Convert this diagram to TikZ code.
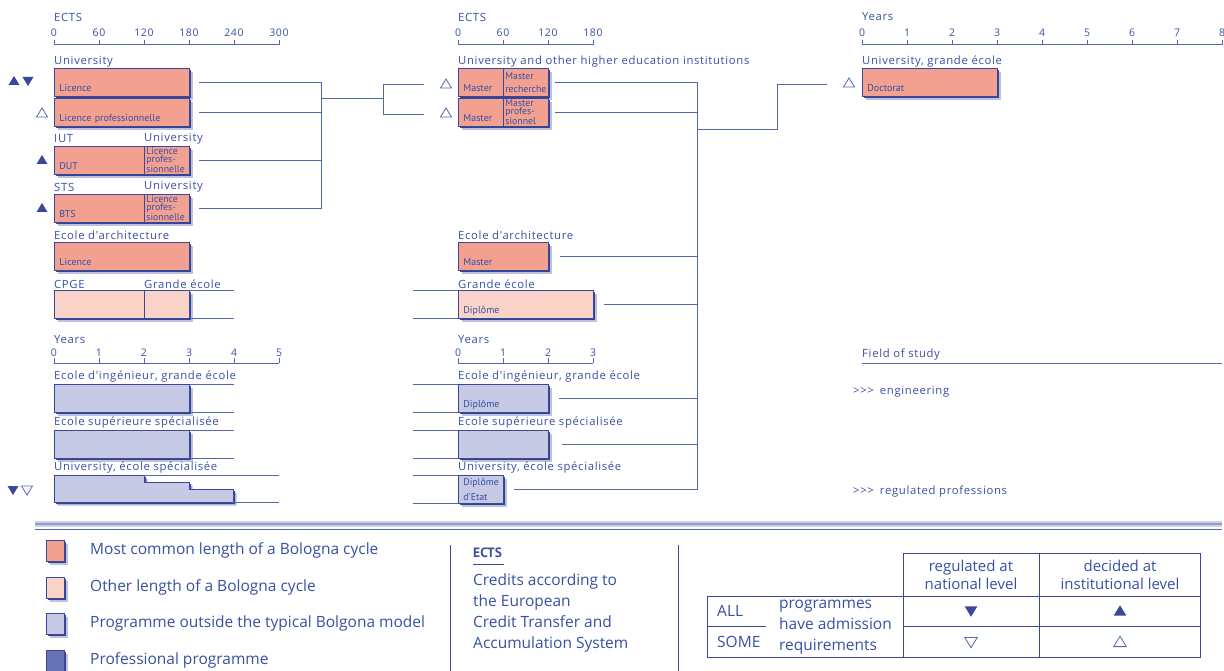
\documentclass[tikz,border=0pt]{standalone}
\usepackage{fontspec}
\setmainfont{Open Sans}
\newfontfamily\labfam[LetterSpace=6]{Open Sans}
\newfontfamily\boxfam{PT Sans}
\usetikzlibrary{shadows}
\definecolor{ink}{RGB}{55,80,162}
\definecolor{wire}{RGB}{82,102,178}
\definecolor{edge}{RGB}{58,72,155}
\definecolor{shade}{RGB}{38,52,140}
\definecolor{common}{RGB}{242,160,143}
\definecolor{other}{RGB}{249,211,199}
\definecolor{outside}{RGB}{198,201,228}
\definecolor{prof}{RGB}{102,114,182}

\begin{document}
\begin{tikzpicture}[x=1pt,y=-1pt,
  lab/.style={anchor=west, inner sep=0pt, text=ink, font=\labfam\fontsize{11.3}{13}\selectfont},
  num/.style={inner sep=0pt, text=ink, font=\labfam\fontsize{10.5}{12}\selectfont},
  axis/.style={draw=wire, line width=1pt},
  link/.style={draw=wire, line width=0.9pt},
  soft/.style={drop shadow={shadow xshift=3.5pt, shadow yshift=-3.5pt, fill=shade, opacity=0.3},
               drop shadow={shadow xshift=2pt, shadow yshift=-2pt, fill=shade, opacity=0.9}},
  box/.style={soft, draw=edge, line width=0.8pt, anchor=north west, inner ysep=0pt, inner xsep=5pt,
              text height=23pt, text depth=5pt, minimum height=28pt, align=left, text=ink,
              font=\boxfam\fontsize{10}{11}\selectfont},
  sbox/.style={soft, draw=edge, line width=0.8pt, anchor=north west, inner ysep=0pt, inner xsep=2pt,
               minimum height=28pt, text width=41pt, align=left, text=ink,
               font=\boxfam\fontsize{9.8}{7.8}\selectfont},
  key/.style={soft, draw=edge, line width=0.8pt, anchor=north west, inner sep=0pt,
              minimum width=18pt, minimum height=21pt},
  legend/.style={anchor=west, inner sep=0pt, text=ink, font=\fontsize{15.5}{20.7}\selectfont},
  grid/.style={draw=edge, line width=0.9pt},
  full/.style={fill=edge},
  hollow/.style={draw=wire, line width=0.8pt},
  triup/.pic={\path[pic actions] (-5.5,4) -- (5.5,4) -- (0,-5) -- cycle;},
  tridown/.pic={\path[pic actions] (-5.5,-4) -- (5.5,-4) -- (0,5) -- cycle;}
]
\useasboundingbox (0,0) rectangle (1224,671);

% first cycle
\node[lab] (ectsA) at (54,17) {ECTS};
\draw[axis] (54,45) -- (279,45);
\foreach \i/\t in {0/0,1/60,2/120,3/180,4/240,5/300}{
  \draw[axis] ({54+45*\i},40) -- ({54+45*\i},45);
  \node[num] (ea\i) at ({54+45*\i},33) {\t};
}
\node[lab] (uniA) at (54,62) {University};
\node[box, fill=common, text width=125pt] (lic) at (54,68) {Licence};
\node[box, fill=common, text width=125pt] (licpro) at (54,98) {Licence professionnelle};
\node[lab] (iut) at (54,139) {IUT};
\node[lab] (uniB) at (144,139) {University};
\node[box, fill=common, text width=80pt] (dut) at (54,146) {DUT};
\node[sbox, fill=common] (lpB) at (144,146) {Licence\\profes-\\sionnelle};
\node[lab] (sts) at (54,187) {STS};
\node[lab] (uniC) at (144,187) {University};
\node[box, fill=common, text width=80pt] (bts) at (54,194) {BTS};
\node[sbox, fill=common] (lpC) at (144,194) {Licence\\profes-\\sionnelle};
\node[lab] (archA) at (54,235) {Ecole d'architecture};
\node[box, fill=common, text width=125pt] (larch) at (54,242) {Licence};
\node[lab] (cpge) at (54,284) {CPGE};
\node[lab] (geA) at (144,284) {Grande école};
\node[box, fill=other, text width=80pt] (prep) at (54,290) {};
\node[box, fill=other, text width=35pt] (geL) at (144,290) {};
\draw[link] (geL.north east) -- ([xshift=44]geL.north east);
\draw[link] (geL.south east) -- ([xshift=44]geL.south east);

\node[lab] (yrA) at (54,340) {Years};
\draw[axis] (54,363) -- (279,363);
\foreach \i in {0,...,5}{
  \draw[axis] ({54+45*\i},358) -- ({54+45*\i},363);
  \node[num] (ya\i) at ({54+45*\i},353) {\i};
}
\node[lab] (ingA) at (54,377) {Ecole d'ingénieur, grande école};
\node[box, fill=outside, text width=125pt] (ingL) at (54,384) {};
\draw[link] (ingL.north east) -- ([xshift=44]ingL.north east);
\draw[link] (ingL.south east) -- ([xshift=44]ingL.south east);
\node[lab] (supA) at (54,423) {Ecole supérieure spécialisée};
\node[box, fill=outside, text width=125pt] (supL) at (54,430) {};
\draw[link] (supL.north east) -- ([xshift=44]supL.north east);
\draw[link] (supL.south east) -- ([xshift=44]supL.south east);
\node[lab] (speA) at (54,468) {University, école spécialisée};
\draw[soft, draw=edge, line width=0.8pt, fill=outside] (54,475) -- (144,475) -- (144,482) -- (189,482)
  -- (189,489) -- (233,489) -- (233,502) -- (54,502) -- cycle;
\draw[link] (144,475) -- (279,475);
\draw[link] (233,502) -- (279,502);

\pic[full] at (14,81) {triup};
\pic[full] at (28,81) {tridown};
\pic[hollow] at (42,113) {triup};
\pic[full] at (42,160) {triup};
\pic[full] at (42,208) {triup};
\pic[full] at (13,490) {tridown};
\pic[hollow] at (27,490) {tridown};

\coordinate (lbar) at (321,98);
\coordinate (mbar) at (383,98);
\coordinate (mA) at (424,84);
\coordinate (mB) at (424,114);
\foreach \b in {lic,licpro,lpB,lpC} \draw[link] ([xshift=9]\b.east) -| (lbar);
\draw[link] (lbar) -- (mbar) |- (mA);
\draw[link] (mbar) |- (mB);

% second cycle
\node[lab] (ectsB) at (458,17) {ECTS};
\draw[axis] (458,45) -- (593,45);
\foreach \i/\t in {0/0,1/60,2/120,3/180}{
  \draw[axis] ({458+45*\i},40) -- ({458+45*\i},45);
  \node[num] (eb\i) at ({458+45*\i},33) {\t};
}
\node[lab] (uniD) at (458,62) {University and other higher education institutions};
\node[box, fill=common, text width=35pt] (maA) at (458,68) {Master};
\node[sbox, fill=common] (mrec) at (503,68) {Master\\[5pt]recherche};
\node[box, fill=common, text width=35pt] (maB) at (458,98) {Master};
\node[sbox, fill=common] (mpro) at (503,98) {Master\\profes-\\sionnel};
\pic[hollow] at (446,84) {triup};
\pic[hollow] at (446,113) {triup};
\node[lab] (archB) at (458,235) {Ecole d'architecture};
\node[box, fill=common, text width=80pt] (march) at (458,242) {Master};
\node[lab] (geB) at (458,284) {Grande école};
\node[box, fill=other, text width=125pt] (dipGE) at (458,290) {Diplôme};
\draw[link] (dipGE.north west) -- ([xshift=-45]dipGE.north west);
\draw[link] (dipGE.south west) -- ([xshift=-45]dipGE.south west);

\node[lab] (yrB) at (458,340) {Years};
\draw[axis] (458,363) -- (593,363);
\foreach \i in {0,...,3}{
  \draw[axis] ({458+45*\i},358) -- ({458+45*\i},363);
  \node[num] (yb\i) at ({458+45*\i},353) {\i};
}
\node[lab] (ingB) at (458,377) {Ecole d'ingénieur, grande école};
\node[box, fill=outside, text width=80pt] (dipIng) at (458,384) {Diplôme};
\node[lab] (supB) at (458,423) {Ecole supérieure spécialisée};
\node[box, fill=outside, text width=80pt] (dipSup) at (458,430) {};
\node[lab] (speB) at (458,468) {University, école spécialisée};
\node[sbox, fill=outside, inner xsep=5pt, text width=35pt] (dipEtat) at (458,475) {Diplôme\\[5pt]d'Etat};
\foreach \b in {dipIng,dipSup,dipEtat}{
  \draw[link] (\b.north west) -- ([xshift=-45]\b.north west);
  \draw[link] (\b.south west) -- ([xshift=-45]\b.south west);
}

\coordinate (rbar) at (697,129);
\coordinate (dknee) at (777,84);
\coordinate (dend) at (827,84);
\foreach \b/\s in {mrec/6,mpro/6,march/11,dipGE/10,dipIng/10,dipSup/13,dipEtat/10}
  \draw[link] ([xshift=\s]\b.east) -| (rbar);
\draw[link] (rbar) -| (dknee) -- (dend);

% third cycle
\node[lab] (yrC) at (862,17) {Years};
\draw[axis] (862,45) -- (1222,45);
\foreach \i in {0,...,8}{
  \draw[axis] ({862+45*\i},40) -- ({862+45*\i},45);
  \node[num] (yc\i) at ({862+45*\i},33) {\i};
}
\node[lab] (uniE) at (862,62) {University, grande école};
\node[box, fill=common, text width=125pt] (doc) at (862,68) {Doctorat};
\pic[hollow] at (849,83) {triup};

\node[lab] (field) at (862,355) {Field of study};
\draw[axis] (862,363) -- (1222,363);
\node[lab] (eng) at (853,392) {>{}>{}>\hspace{6pt}engineering};
\node[lab] (reg) at (853,492) {>{}>{}>\hspace{6pt}regulated professions};

% legend
\draw[line width=6pt, draw=wire!30] (35,524) -- (1222,524);
\draw[line width=2.5pt, draw=wire!65] (35,524) -- (1222,524);
\draw[line width=1pt, draw=wire] (35,529.5) -- (1222,529.5);

\foreach \y/\c/\t in {540/common/Most common length of a Bologna cycle,
  577/other/Other length of a Bologna cycle,
  613/outside/Programme outside the typical Bolgona model,
  650/prof/Professional programme}{
  \node[key, fill=\c] (key\c) at (46,\y) {};
  \node[legend] (txt\c) at (90,\y+10) {\t};
}
\draw[grid] (450,545) -- (450,671);
\draw[grid] (678,545) -- (678,671);
\node[anchor=west, inner sep=0pt, text=ink, font=\boxfam\bfseries\fontsize{13.5}{15}\selectfont] (ectsK) at (473,553) {ECTS};
\draw[grid] (473,564) -- (504,564);
\node[legend, anchor=north west, align=left] (credits) at (473,574)
  {Credits according to\\the European\\Credit Transfer and\\Accumulation System};

\draw[grid] (707,596) rectangle (1200,657);
\draw[grid] (903,553) rectangle (1039,657);
\draw[grid] (1039,553) -- (1200,553) -- (1200,596);
\draw[grid] (903,626) -- (1200,626);
\draw[grid] (707,626) -- (766,626);
\node[legend, anchor=center, align=center, font=\fontsize{15}{18.5}\selectfont] (hnat) at (971,575) {regulated at\\national level};
\node[legend, anchor=center, align=center, font=\fontsize{15}{18.5}\selectfont] (hinst) at (1120,575) {decided at\\institutional level};
\node[legend] (all) at (717,611) {ALL};
\node[legend] (some) at (717,642) {SOME};
\node[legend, align=left] (adm) at (779,627) {programmes\\have admission\\requirements};
\pic[full, scale=1.15] at (971,611) {tridown};
\pic[full, scale=1.15] at (1120,611) {triup};
\pic[hollow, scale=1.15] at (971,642) {tridown};
\pic[hollow, scale=1.15] at (1120,642) {triup};
\end{tikzpicture}
\end{document}
